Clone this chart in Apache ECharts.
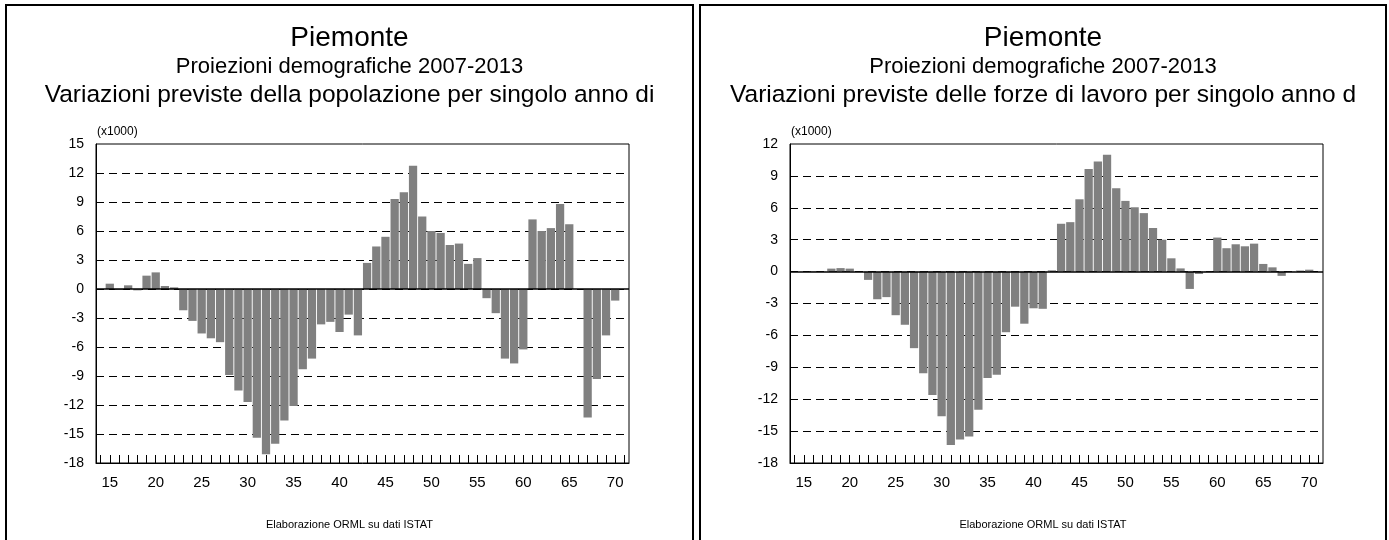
<!DOCTYPE html>
<html>
<head>
<meta charset="utf-8">
<script src="https://cdn.jsdelivr.net/npm/echarts@6/dist/echarts.min.js"></script>
<style>
html,body{margin:0;padding:0;background:#fff;}
#c{width:1389px;height:540px;}
</style>
</head>
<body>
<div id="c"></div>
<script>
// ---- data ----
const ages = ['14','15','16','17','18','19','20','21','22','23','24','25','26','27','28','29','30','31','32','33','34','35','36','37','38','39','40','41','42','43','44','45','46','47','48','49','50','51','52','53','54','55','56','57','58','59','60','61','62','63','64','65','66','67','68','69','70','71'];
const popolazione = [null,0.55,-0.1,0.38,-0.14,1.38,1.72,0.31,0.17,-2.2,-3.3,-4.6,-5.1,-5.5,-8.9,-10.5,-11.7,-15.4,-17.1,-16.0,-13.6,-12.1,-8.3,-7.2,-3.66,-3.4,-4.45,-2.65,-4.8,2.7,4.4,5.4,9.3,10.0,12.75,7.5,6.0,5.8,4.55,4.7,2.6,3.2,-0.95,-2.5,-7.2,-7.7,-6.25,7.2,6.0,6.3,8.8,6.7,null,-13.3,-9.3,-4.8,-1.2,null];
const forzeLavoro = [null,0.02,0.05,0.02,0.28,0.33,0.28,0.02,-0.78,-2.6,-2.4,-4.1,-5.0,-7.2,-9.55,-11.6,-13.6,-16.3,-15.8,-15.5,-13.0,-10.0,-9.7,-5.7,-3.3,-4.9,-3.45,-3.5,0.12,4.5,4.65,6.8,9.65,10.35,11.0,7.84,6.65,6.05,5.5,4.1,3.0,1.25,0.3,-1.63,-0.22,-0.05,3.2,2.2,2.57,2.38,2.63,0.72,0.4,-0.4,-0.03,0.1,0.18,null];
const xLabels = ['15','20','25','30','35','40','45','50','55','60','65','70'];
const titleMain = 'Piemonte';
const titleSub = 'Proiezioni demografiche 2007-2013';
const titleLeft = 'Variazioni previste della popolazione per singolo anno di';
const titleRight = 'Variazioni previste delle forze di lavoro per singolo anno d';
const unitLabel = '(x1000)';
const footer = 'Elaborazione ORML su dati ISTAT';
const yLeft = {min:-18, max:15, interval:3};
const yRight = {min:-18, max:12, interval:3};

// ---- chart ----
const FONT = 'Liberation Sans, Arial, sans-serif';
const chart = echarts.init(document.getElementById('c'), null, {renderer:'canvas'});

function xAxisCfg(gi){
  return {
    type:'category', gridIndex:gi, data:ages, position:'bottom',
    axisLine:{onZero:false, show:true, lineStyle:{color:'#000', width:1}},
    axisTick:{show:true, inside:true, length:8, interval:0, alignWithLabel:true, lineStyle:{color:'#000'}},
    axisLabel:{interval:0, margin:12, fontSize:15, color:'#000', fontFamily:FONT,
      formatter:function(v){ return xLabels.indexOf(v) >= 0 ? v : ''; }},
    splitLine:{show:false}
  };
}
function yAxisCfg(gi, r){
  return {
    type:'value', gridIndex:gi, min:r.min, max:r.max, interval:r.interval,
    axisLine:{show:true, lineStyle:{color:'#000'}},
    axisTick:{show:false},
    axisLabel:{fontSize:14, color:'#000', margin:12, fontFamily:FONT},
    splitLine:{show:true, showMinLine:false, showMaxLine:false, lineStyle:{color:'#000', type:[8,5], width:1}}
  };
}
function barSeries(gi, data){
  return {
    type:'bar', xAxisIndex:gi, yAxisIndex:gi, data:data,
    barCategoryGap:'10%',
    itemStyle:{color:'#808080'},
    silent:true, animation:false,
    markLine:{silent:true, symbol:'none', label:{show:false},
      lineStyle:{color:'#000', type:'solid', width:1.5},
      data:[{yAxis:0}]}
  };
}

function txt(x, y, text, size){
  return {type:'text', x:x, y:y, silent:true, z:10,
    style:{text:text, x:0, y:0, fill:'#000', font:size+'px '+FONT, textAlign:'center', textVerticalAlign:'middle'}};
}
function txtL(x, y, text, size){
  return {type:'text', x:x, y:y, silent:true, z:10,
    style:{text:text, x:0, y:0, fill:'#000', font:size+'px '+FONT, textAlign:'left', textVerticalAlign:'middle'}};
}

const cxL = 349.5, cxR = 1043;
chart.setOption({
  animation:false,
  backgroundColor:'#fff',
  grid:[
    {left:96, top:144, width:533, height:319, show:true, borderColor:'#000', borderWidth:1, containLabel:false},
    {left:790, top:144, width:533, height:319, show:true, borderColor:'#000', borderWidth:1, containLabel:false}
  ],
  xAxis:[xAxisCfg(0), xAxisCfg(1)],
  yAxis:[yAxisCfg(0, yLeft), yAxisCfg(1, yRight)],
  series:[barSeries(0, popolazione), barSeries(1, forzeLavoro)],
  graphic:[
    {type:'rect', shape:{x:6, y:5, width:687, height:560}, style:{fill:'none', stroke:'#000', lineWidth:2}, silent:true},
    {type:'rect', shape:{x:700, y:5, width:686, height:560}, style:{fill:'none', stroke:'#000', lineWidth:2}, silent:true},
    txt(cxL, 38, titleMain, 28),
    txt(cxL, 67, titleSub, 22),
    txt(cxL, 95, titleLeft, 24.5),
    txt(cxR, 38, titleMain, 28),
    txt(cxR, 67, titleSub, 22),
    txt(cxR, 95, titleRight, 24.5),
    txtL(97, 132, unitLabel, 12),
    txtL(791, 132, unitLabel, 12),
    txt(cxL, 525, footer, 11),
    txt(cxR, 525, footer, 11)
  ]
});
</script>
</body>
</html>
